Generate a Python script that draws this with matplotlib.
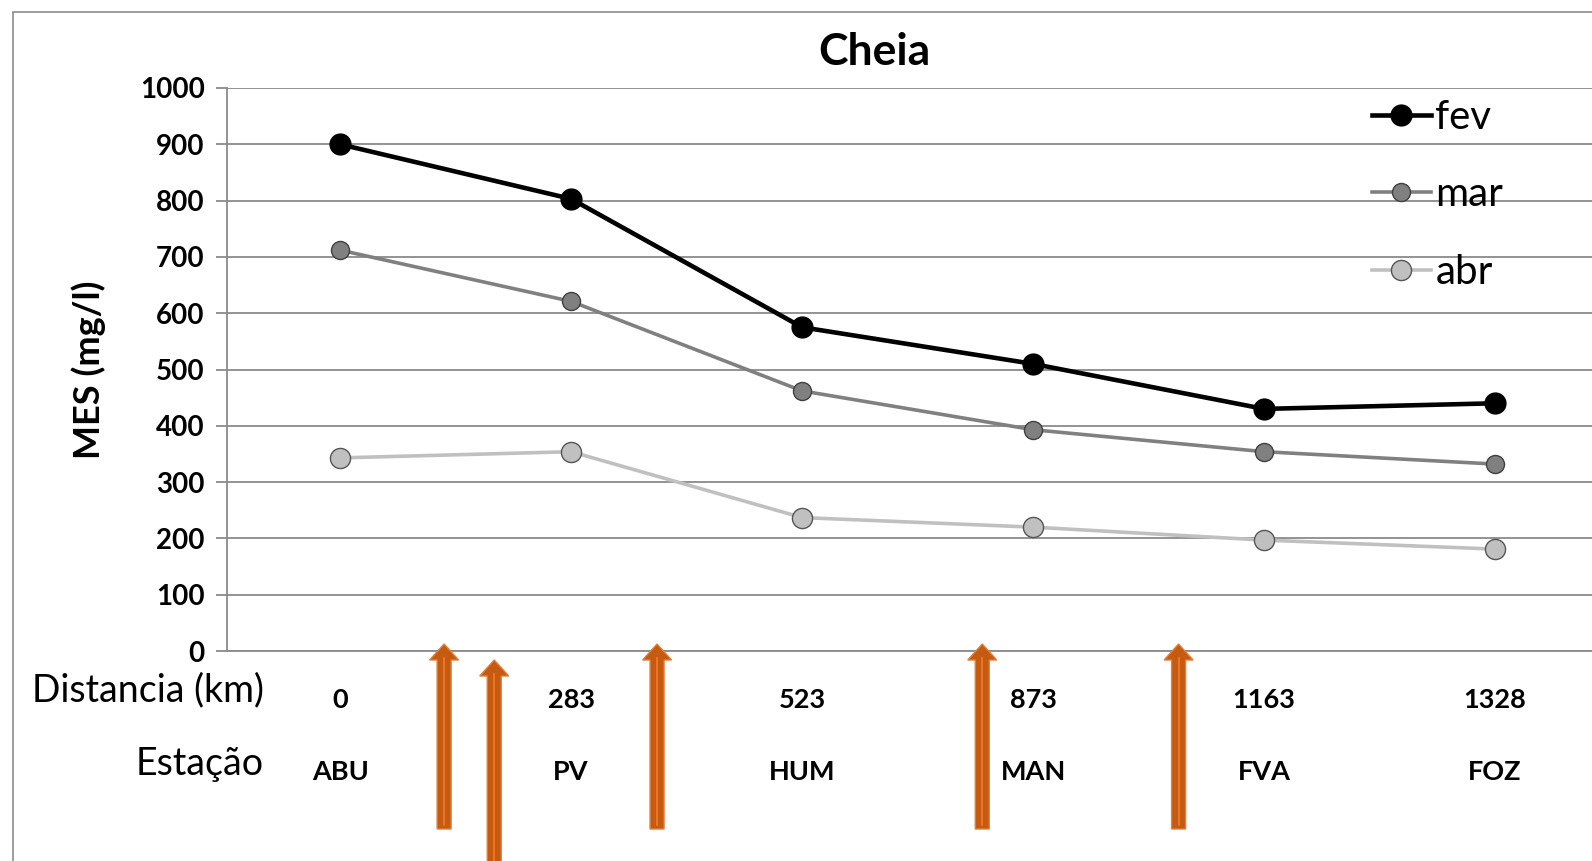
import matplotlib
matplotlib.use("Agg")
import matplotlib.pyplot as plt
import matplotlib.transforms as mtransforms
from matplotlib.patches import Rectangle, FancyArrow

plt.rcParams['font.family'] = ['Lato', 'DejaVu Sans']

# dados
estacoes = ['ABU', 'PV', 'HUM', 'MAN', 'FVA', 'FOZ']
distancias = ['0', '283', '523', '873', '1163', '1328']
fev = [900, 803, 575, 510, 430, 440]
mar = [712, 621, 462, 393, 354, 332]
abr = [343, 354, 237, 220, 197, 181]

# setas (posicao em x, em unidades de categoria) e topo/fundo em pixels
setas_x = [0.45, 0.667, 1.372, 2.78, 3.63]
setas_topo = [644, 660, 644, 644, 644]
setas_fundo = [829, 875, 829, 829, 829]

W, H = 1592, 861
fig = plt.figure(figsize=(W / 100, H / 100), dpi=100)
ax = fig.add_axes([227 / W, 1 - 651 / H, 1 - 227 / W, (651 - 88) / H])

# moldura do grafico
fig.patches.append(Rectangle((13 / W, -0.1), 1.2, 1 - 12 / H + 0.1,
                             transform=fig.transFigure, fill=False,
                             edgecolor='#8c8c8c', linewidth=1.2, zorder=0))

x = list(range(len(estacoes)))
ax.plot(x, fev, '-o', color='black', lw=3.3, ms=15, mfc='black', mec='black',
        label='fev', zorder=5)
ax.plot(x, mar, '-o', color='#808080', lw=2.6, ms=13, mfc='#808080',
        mec='#404040', mew=1.0, label='mar', zorder=4)
ax.plot(x, abr, '-o', color='#c0c0c0', lw=2.6, ms=14.5, mfc='#c0c0c0',
        mec='#555555', mew=1.0, label='abr', zorder=3)

ax.set_xlim(-0.49, 5.42)
ax.set_ylim(0, 1000)
ax.set_yticks(range(0, 1001, 100))
ax.set_xticks([])
ax.grid(axis='y', color='#8a8a8a', lw=1.3)
ax.set_axisbelow(True)
for s in ['top', 'right']:
    ax.spines[s].set_visible(False)
ax.spines['left'].set_color('#8a8a8a')
ax.spines['bottom'].set_color('#8a8a8a')
ax.spines['left'].set_linewidth(1.3)
ax.spines['bottom'].set_linewidth(1.3)
ax.tick_params(axis='y', length=8, width=1.3, color='#8a8a8a', pad=8,
               labelsize=20)
for t in ax.get_yticklabels():
    t.set_fontweight('bold')

ax.set_ylabel('MES (mg/l)', fontsize=26, fontweight='bold')
ax.yaxis.set_label_coords(-0.089, 0.5)

fig.text(874 / W, 1 - 52 / H, 'Cheia', ha='center', va='center',
         fontsize=32, fontweight='bold')

# rotulos das categorias
trans = mtransforms.blended_transform_factory(ax.transData, fig.transFigure)
for i in x:
    ax.text(i, 1 - 700 / H, distancias[i], transform=trans, ha='center',
            va='center', fontsize=19.5, fontweight='bold', clip_on=False)
    ax.text(i, 1 - 772 / H, estacoes[i], transform=trans, ha='center',
            va='center', fontsize=19.5, fontweight='bold', clip_on=False)
fig.text(264 / W, 1 - 690 / H, 'Distancia (km)', ha='right', va='center',
         fontsize=27)
fig.text(264 / W, 1 - 764 / H, 'Estação', ha='right', va='center',
         fontsize=27)

# setas laranja (em pixels)
pix = mtransforms.IdentityTransform()
for sx, st, sb in zip(setas_x, setas_topo, setas_fundo):
    px = ax.transData.transform((sx, 0))[0]
    y0 = H - sb
    dy = sb - st
    arr = FancyArrow(px, y0, 0, dy, width=14, head_width=29,
                     head_length=16, length_includes_head=True,
                     transform=pix, facecolor='#c55a11',
                     edgecolor='#e0803f', linewidth=1.0, zorder=10)
    fig.patches.append(arr)
    fig.lines.append(plt.Line2D([px, px], [y0 + 4, y0 + dy - 14],
                                transform=pix, color='#f47a2a',
                                lw=1.2, zorder=11))

leg = ax.legend(loc='upper left', frameon=False, fontsize=29,
                handlelength=1.45, handletextpad=0.12, labelspacing=1.0,
                borderaxespad=0)
leg.set_bbox_to_anchor((1356 / W, 1 - 83 / H), transform=fig.transFigure)

fig.savefig('out.png', dpi=100)
